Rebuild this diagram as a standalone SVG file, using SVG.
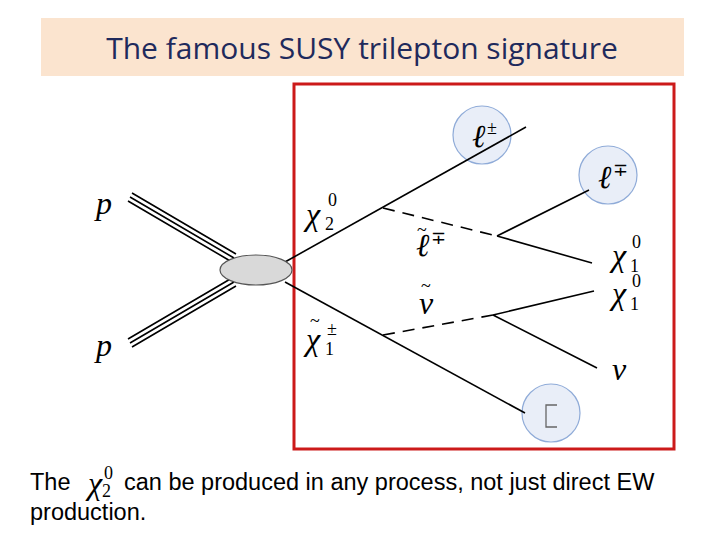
<svg xmlns="http://www.w3.org/2000/svg" width="720" height="540" viewBox="0 0 720 540">
<style>
.ln{stroke:#000;stroke-width:1.6;fill:none}
.ds{stroke:#000;stroke-width:1.6;fill:none;stroke-dasharray:12 8}
.c{fill:#e9eef8;stroke:#8fabd8;stroke-width:1.2}
.m{font-family:"Liberation Serif",serif;font-style:italic;font-size:32px;fill:#000}
.t{font-family:"Liberation Serif",serif;font-size:18px;fill:#000}
.s{font-family:"Liberation Serif",serif;font-size:18px;fill:#000}
.b{font-family:"Liberation Sans",Arial,sans-serif;font-size:23.5px;fill:#000}
</style>
<rect width="720" height="540" fill="#fff"/>
<g id="title"><rect x="41" y="18" width="643" height="58" fill="#fbe4cf"/>
<text x="362" y="59" text-anchor="middle" font-family="Open Sans, sans-serif" font-size="30" fill="#1f2a5c">The famous SUSY trilepton signature</text></g>
<g id="frame"><rect x="294" y="84" width="380" height="365" fill="none" stroke="#cc1a1a" stroke-width="3"/></g>
<g id="circles">
<circle class="c" cx="482" cy="135" r="29"/>
<circle class="c" cx="608" cy="175" r="29"/>
<circle class="c" cx="551" cy="413" r="29"/>
</g>
<g id="connectors">
<path class="ln" d="M128,201 L232,262 M130,197 L234,258 M132,193 L236,254"/>
<path class="ln" d="M128,339 L232,278 M130,343 L234,282 M132,347 L236,286"/>
<path class="ln" d="M285,262 L526,127"/>
<path class="ln" d="M285,282 L525,413"/>
<path class="ds" d="M383,208 L497,236"/>
<path class="ds" d="M383,335 L493,315"/>
<path class="ln" d="M497,236 L589,190 M497,236 L592,263"/>
<path class="ln" d="M493,315 L594,291 M493,315 L597,368"/>
</g>
<g id="blob"><ellipse cx="256" cy="270" rx="36" ry="15" fill="#d9d9d9" stroke="#555" stroke-width="1.2"/></g>
<g id="labels">
<text class="m" x="96" y="214" font-size="38">p</text>
<text class="m" x="96" y="356" font-size="38">p</text>
<text class="m" x="306" y="225">χ</text><text class="s" x="325" y="230">2</text><text class="s" x="328" y="206">0</text>
<text class="m" x="416" y="256">ℓ</text><text class="t" x="417" y="236">~</text><text class="s" x="431" y="244">∓</text>
<text class="m" x="419" y="314">ν</text><text class="t" x="421" y="292">~</text>
<text class="m" x="306" y="350">χ</text><text class="t" x="310" y="327">~</text><text class="s" x="325" y="355">1</text><text class="s" x="327" y="335">±</text>
<text class="m" x="612" y="266">χ</text><text class="s" x="630" y="272">1</text><text class="s" x="632" y="248">0</text>
<text class="m" x="612" y="304">χ</text><text class="s" x="630" y="310">1</text><text class="s" x="632" y="287">0</text>
<text class="m" x="612" y="380">ν</text>
<text class="m" x="472" y="147" font-size="28">ℓ</text><text class="s" x="487" y="134">±</text>
<text class="m" x="598" y="188" font-size="28">ℓ</text><text class="s" x="613" y="176">∓</text>
<path d="M557,405 H546 V427 H557" fill="none" stroke="#666" stroke-width="1.3"/>
</g>
<g id="caption">
<text class="b" x="30" y="490">The</text>
<text class="m" x="88" y="494" font-size="26">χ</text><text class="s" x="102" y="497" font-size="14">2</text><text class="s" x="104" y="479" font-size="14">0</text>
<text class="b" x="124" y="490">can be produced in any process, not just direct EW</text>
<text class="b" x="30" y="520">production.</text>
</g>
</svg>
